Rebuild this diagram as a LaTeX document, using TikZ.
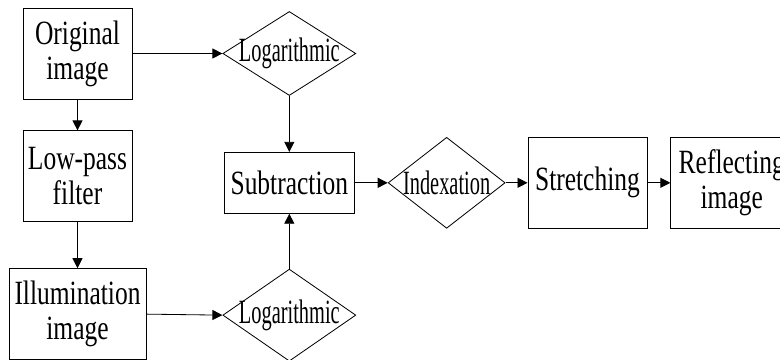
\documentclass[tikz,border=0pt]{standalone}
\usepackage{fontspec}
\usepackage{graphicx}
\setmainfont[FakeStretch=0.75]{Liberation Serif}
\usetikzlibrary{positioning}
\usetikzlibrary{shapes.geometric,arrows.meta}

\newcommand{\dlabel}[1]{\makebox[0pt]{\scalebox{0.8}[1]{#1}}}

\tikzset{
  box/.style={draw, line width=0.7pt, align=center, inner sep=0pt,
    minimum height=2.73cm, font=\fontsize{29}{30}\selectfont},
  dia/.style={draw, diamond, line width=0.7pt, inner sep=0pt,
    minimum width=3.99cm, font=\fontsize{29}{30}\selectfont},
  arr/.style={line width=0.7pt, -{Triangle[length=0.3cm,width=0.3cm]}}
}

\begin{document}
\begin{tikzpicture}
    \useasboundingbox (-2.325,1.605) rectangle (21.075,-9.195);

    \node(orig) [box, minimum width=3.27cm] {Original\\image};
    \node(lowpass) [box, minimum width=3.27cm, below=0.93cm of orig] {Low-pass\\filter};
    \node(illum) [box, minimum width=4.11cm, below=1.38cm of lowpass] {Illumination\\image};

    \node(log1) [dia, minimum height=2.52cm, right=2.7cm of orig] {\dlabel{Logarithmic}};
    \node(sub) [box, minimum width=3.9cm, minimum height=1.83cm, below=1.68cm of log1] {Subtraction};
    \node(log2) [dia, minimum height=2.76cm, below=1.65cm of sub] {\dlabel{Logarithmic}};

    \node(idx) [dia, minimum width=3.51cm, minimum height=2.73cm, right=0.99cm of sub] {\dlabel{Indexation}};
    \node(stretch) [box, minimum width=3.57cm, right=0.66cm of idx] {Stretching};
    \node(refl) [box, minimum width=3.66cm, right=0.69cm of stretch] {Reflecting\\image};

    \draw[arr](orig) -- (log1);
    \draw[arr](orig) -- (lowpass);
    \draw[arr](lowpass) -- (illum);
    \draw[arr](illum.east) -- (log2.west);
    \draw[arr](log1) -- (sub);
    \draw[arr](log2) -- (sub);
    \draw[arr](sub) -- (idx);
    \draw[arr](idx) -- (stretch);
    \draw[arr](stretch) -- (refl);
\end{tikzpicture}
\end{document}
